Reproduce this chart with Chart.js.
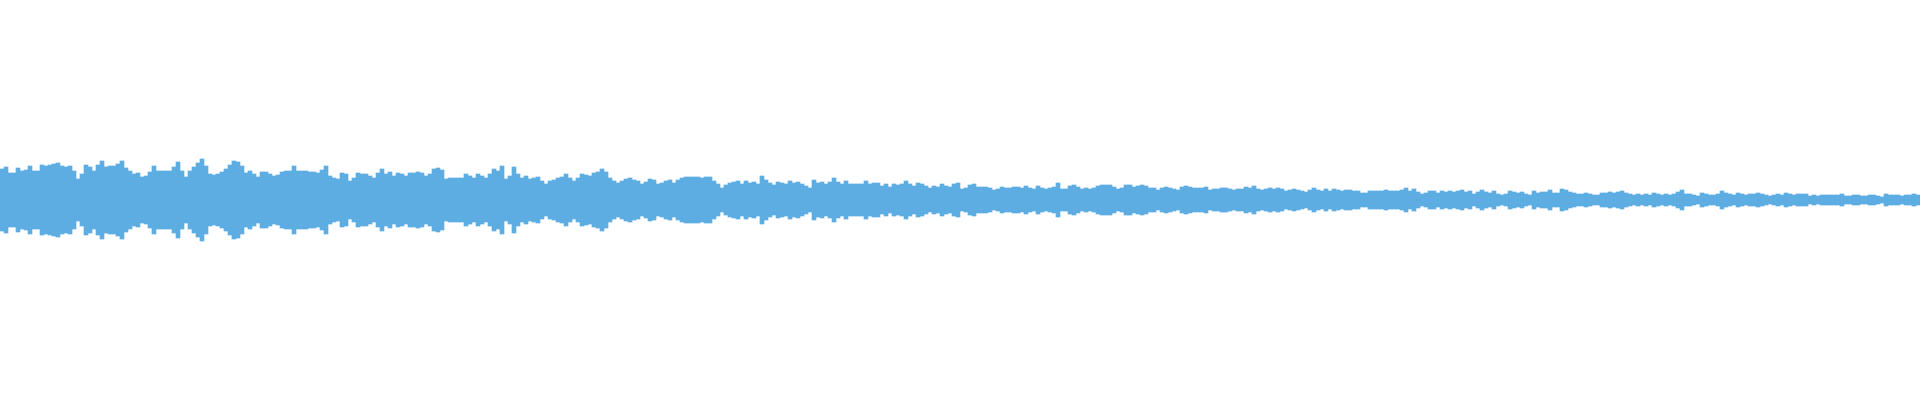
<!DOCTYPE html>
<html lang="en">
<head>
    <meta charset="UTF-8">
    <title>Waveform</title>
    <style>
        body {
            margin: 0;
            background: #ffffff;
        }
        .wrap {
            width: 1920px;
            height: 400px;
            position: relative;
        }
    </style>
</head>
<body>
    <div class="wrap">
        <canvas id="wave"></canvas>
    </div>

    <script src="https://cdn.jsdelivr.net/npm/chart.js"></script>
    <script>
        // peak amplitude per 4px slice (pixels from the centre line)
        const part1 = [31,33,27,27,32,29,30,34,29,29,35,34,35,36,37,34,33,34,29,21,
                       26,35,33,29,35,39,33,34,34,36,39,32,29,26,27,23,24,28,34,29,
                       29,29,29,33,38,29,23,29,33,37,41,34,26,25,26,28,31,35,39,38,
                       34,27,29,26,23,28,28,26,24,25,28,29,29,34,29,29,29,28,28,27];
        const part2 = [30,34,24,22,21,27,26,19,22,27,26,26,24,22,27,31,26,28,24,27,
                       26,24,27,27,28,27,24,26,31,32,30,21,22,22,22,22,26,24,22,26,
                       24,22,26,31,29,34,21,24,33,26,22,24,21,22,23,19,16,19,20,22,
                       23,26,22,19,22,26,25,24,27,28,31,28,22,19,17,19,21,22,20,19];
        const part3 = [16,18,21,20,16,17,19,20,17,20,22,23,23,23,23,22,23,23,19,16,
                       12,15,17,18,19,16,19,17,18,16,24,20,17,15,18,17,16,19,17,18,
                       16,14,12,20,17,18,16,18,22,18,16,19,16,16,16,16,19,16,17,17,
                       14,16,13,16,15,16,19,16,14,17,16,14,12,14,13,16,14,13,16,17];
        const part4 = [11,12,15,16,13,13,13,12,10,11,13,12,12,13,13,12,14,12,11,14,
                       12,11,12,13,17,11,11,14,15,13,11,12,11,12,14,15,15,15,13,11,
                       12,15,15,13,14,15,14,12,12,10,12,13,12,11,10,13,14,13,12,12,
                       12,13,10,11,11,12,12,11,10,11,11,13,12,14,11,10,11,12,11,12];
        const part5 = [11,9,10,11,10,9,8,10,12,10,9,11,9,11,10,9,10,10,9,9,
                       7,7,9,9,9,9,10,9,9,9,10,12,9,11,8,6,7,9,9,7,
                       9,8,9,8,9,10,8,9,6,8,10,8,7,9,6,5,6,9,8,7,
                       8,6,5,9,7,8,8,10,7,7,11,10,8,7,6,6,7,6,5,5];
        const part6 = [7,7,8,7,8,9,7,6,5,6,5,6,5,7,6,5,6,5,6,8,
                       10,6,6,5,4,7,6,5,5,6,9,7,6,5,7,6,5,6,6,7,
                       6,5,4,5,6,5,7,6,5,6,6,6,4,5,4,5,5,5,5,5,
                       6,4,4,5,5,4,4,5,5,4,3,6,5,5,5,4,5,5,6,5];

        const amplitude = part1.concat(part2, part3, part4, part5, part6);
        const slices = amplitude.map((a, i) => i);

        function drawWave() {
            var ctx = document.getElementById('wave').getContext('2d');
            new Chart(ctx, {
                type: 'bar',
                data: {
                    labels: slices,
                    datasets: [{
                        data: amplitude.map(a => [-a, a]),
                        backgroundColor: '#5dade2',
                        borderWidth: 0,
                        barPercentage: 1,
                        categoryPercentage: 1
                    }]
                },
                options: {
                    responsive: true,
                    maintainAspectRatio: false,
                    animation: false,
                    layout: { padding: 0 },
                    plugins: {
                        legend: { display: false },
                        tooltip: { enabled: false }
                    },
                    scales: {
                        x: { display: false },
                        y: { display: false, min: -200, max: 200 }
                    }
                }
            });
        }

        window.onload = drawWave;
    </script>
</body>
</html>
